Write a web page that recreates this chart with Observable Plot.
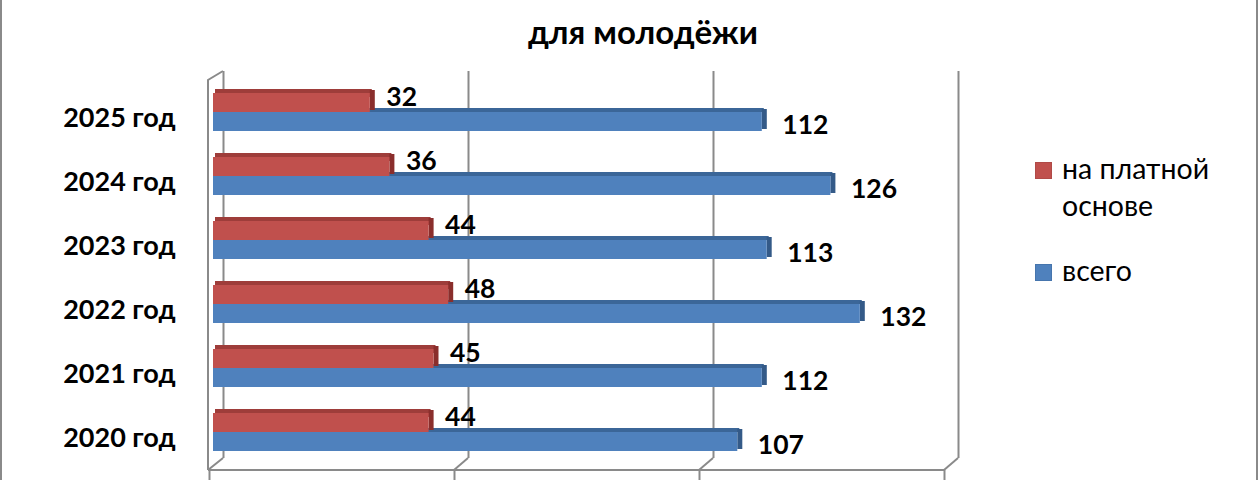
<!DOCTYPE html>
<html><head><meta charset="utf-8">
<script src="https://cdn.jsdelivr.net/npm/d3@7"></script>
<script src="https://cdn.jsdelivr.net/npm/@observablehq/plot@0.6"></script>
<style>
html,body{margin:0;padding:0;background:#fff;}
#wrap{position:relative;width:1260px;height:480px;overflow:hidden;font-family:Lato,"Open Sans",sans-serif;}
#frameL{position:absolute;left:0;top:0;width:2px;height:480px;background:#8a8a8a;}
#frameR{position:absolute;left:1256px;top:0;width:2px;height:480px;background:#8a8a8a;}
#title{position:absolute;left:0;width:1286px;top:11px;text-align:center;font-weight:bold;font-size:33px;color:#000;line-height:40px;}
.lg{position:absolute;font-size:28.5px;color:#000;line-height:37px;}
.sw{position:absolute;width:17px;height:17px;}
svg{position:absolute;left:0;top:0;}
</style></head><body>
<div id="wrap"></div>
<script>
const years = ["2025 год","2024 год","2023 год","2022 год","2021 год","2020 год"];
const paid = [32, 36, 44, 48, 45, 44];
const total = [112, 126, 113, 132, 112, 107];
const seriesNames = ["на платной основе", "всего"];
const gridTicks = [0, 50, 100, 150];
const titleText = "для молодёжи";

const redFace = "#C0504D", redTop = "#9E3D3A", redSide = "#8A2E2C";
const blueFace = "#4F81BD", blueTop = "#3B6698", blueSide = "#345A88";
const gridColor = "#8a8a8a";

const rows = years.map((y, i) => ({year: y, paid: paid[i], total: total[i]}));

const chart = Plot.plot({
  width: 1260, height: 480,
  marginLeft: 213, marginRight: 312, marginTop: 67, marginBottom: 3,
  x: {domain: [0, 150], axis: null},
  y: {domain: years, padding: 0.40625, label: null, axis: null},
  style: {fontFamily: "Lato, 'Open Sans', sans-serif", background: "transparent", color: "#000", overflow: "visible"},
  marks: [
    Plot.ruleX(gridTicks, {dx: 10, insetTop: 4, insetBottom: 19, stroke: gridColor, strokeWidth: 2}),
    Plot.ruleX(gridTicks, {dx: -4, insetTop: 403, insetBottom: -6, stroke: gridColor, strokeWidth: 2}),
    Plot.barX(rows, {x: "total", y: "year", insetTop: 15, insetBottom: 19, dx: 2, fill: blueTop}),
    Plot.barX(rows, {x1: "total", x2: "total", y: "year", insetRight: -5, insetTop: 16, insetBottom: 2, fill: blueSide}),
    Plot.barX(rows, {x: "total", y: "year", insetTop: 19, fill: blueFace}),
    Plot.barX(rows, {x: "paid", y: "year", insetTop: -4, insetBottom: 34, dx: 2, fill: redTop}),
    Plot.barX(rows, {x1: "paid", x2: "paid", y: "year", insetRight: -5, insetTop: -3, insetBottom: 21, fill: redSide}),
    Plot.barX(rows, {x: "paid", y: "year", insetBottom: 19, fill: redFace}),
    Plot.axisY({tickSize: 0, tickPadding: 38, fontSize: 27, fontWeight: "bold", dy: 6, fill: "#000"}),
    Plot.text(rows, {x: "paid", y: "year", text: d => String(d.paid), dx: 16, dy: -15, textAnchor: "start", fontSize: 26.5, fontWeight: "bold", fill: "#000"}),
    Plot.text(rows, {x: "total", y: "year", text: d => String(d.total), dx: 20, dy: 13, textAnchor: "start", fontSize: 26.5, fontWeight: "bold", fill: "#000"})
  ]
});

const xs = chart.scale("x");
const svg = d3.select(chart);
const g = svg.insert("g", ":first-child").attr("stroke", gridColor).attr("stroke-width", 2).attr("fill", "none");
const x0 = xs.apply(0);
const xEnd = xs.apply(gridTicks[gridTicks.length - 1]);
g.append("path").attr("d", `M${x0 - 5},470 L${x0 - 5},80 L${x0 + 10},71`);
g.append("path").attr("d", `M${x0 - 5},470 L${xEnd - 4},470`);
gridTicks.forEach(v => {
  const xv = xs.apply(v);
  const f = v === 0 ? -5 : -4;
  g.append("path").attr("d", `M${xv + 10},458 L${xv + f},470`);
});

const wrap = document.getElementById("wrap");
wrap.appendChild(chart);
wrap.insertAdjacentHTML("beforeend", `
<div id="frameL"></div><div id="frameR"></div>
<div id="title">${titleText}</div>
<div class="sw" style="left:1035px;top:162px;background:${redFace};border:1px solid #b04a47;box-sizing:border-box;"></div>
<div class="lg" style="left:1062px;top:150px;">на платной<br>основе</div>
<div class="sw" style="left:1035px;top:264px;background:${blueFace};border:1px solid #4675ad;box-sizing:border-box;"></div>
<div class="lg" style="left:1062px;top:252px;">${seriesNames[1]}</div>
`);
</script>
</body></html>
